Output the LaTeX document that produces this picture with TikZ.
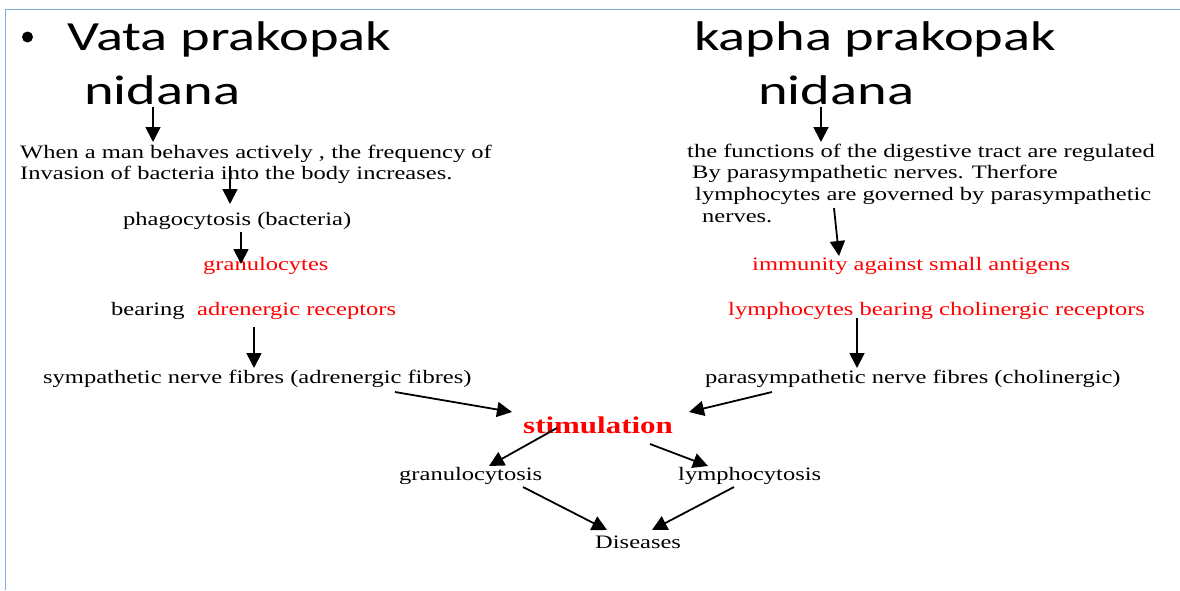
\documentclass[tikz,border=0pt]{standalone}
\usepackage{fontspec}
\setmainfont{Liberation Serif}[FakeStretch=1.29]
\newfontfamily\headfont{Carlito}[FakeStretch=1.36]
\usetikzlibrary{arrows.meta}
\definecolor{framec}{HTML}{7FADDD}
\definecolor{redtxt}{HTML}{FF0000}
\tikzset{
  txt/.style={anchor=base west, inner sep=0pt, font=\fontsize{19}{22}\selectfont},
  redt/.style={txt, text=redtxt},
  head/.style={anchor=base west, inner sep=0pt, font=\headfont\fontsize{41.5}{48}\selectfont},
  arr/.style={line width=1.8pt, -{Triangle[length=15pt,width=15pt]}},
}
\begin{document}
\begin{tikzpicture}[x=1pt,y=-1pt]
\useasboundingbox (0,0) rectangle (1180,590);
\fill[white] (0,0) rectangle (1180,590);
\draw[framec, line width=1pt] (5.5,590) -- (5.5,9.5) -- (1180,9.5);

% headings
\node[circle, fill=black, inner sep=0pt, minimum size=11pt] (bul) at (27.5,37) {};
\node[head] (vata) at (67,50) {Vata prakopak};
\node[head] (nidL) at (84,104) {nidana};
\node[head] (kapha) at (694,50) {kapha prakopak};
\node[head] (nidR) at (758,104) {nidana};

% left column
\node[txt] (l1) at (20,158) {When a man behaves actively , the frequency of};
\node[txt] (l2) at (20,179) {Invasion of bacteria into the body increases.};
\node[txt] (phago) at (123,225) {phagocytosis (bacteria)};
\node[redt] (granu) at (203,270) {granulocytes};
\node[txt] (bear) at (111,315) {bearing};
\node[redt] (adren) at (197,315) {adrenergic receptors};
\node[txt] (symp) at (43,383) {sympathetic nerve fibres (adrenergic fibres)};

% right column
\node[txt] (r1) at (687,157) {the functions of the digestive tract are regulated};
\node[txt] (r2) at (692,178) {By parasympathetic nerves. Therfore};
\node[txt] (r3) at (695,200) {lymphocytes are governed by parasympathetic};
\node[txt] (r4) at (702,222) {nerves.};
\node[redt] (immun) at (752,270) {immunity against small antigens};
\node[redt] (lymb) at (728,315) {lymphocytes bearing cholinergic receptors};
\node[txt] (para) at (705,383) {parasympathetic nerve fibres (cholinergic)};

% bottom
\node[anchor=base west, inner sep=0pt, text=redtxt, font=\fontsize{24}{28}\selectfont\bfseries] (stim) at (523,433) {stimulation};
\node[txt] (gcyt) at (399,480) {granulocytosis};
\node[txt] (lcyt) at (678,480) {lymphocytosis};
\node[txt] (dis) at (595,548) {Diseases};

% arrow end points
\coordinate (a1s) at (153,107); \coordinate (a1e) at (153,142);
\coordinate (a2s) at (230,166); \coordinate (a2e) at (230,204);
\coordinate (a3s) at (241,232); \coordinate (a3e) at (241,264);
\coordinate (a4s) at (254,327); \coordinate (a4e) at (254,368);
\coordinate (a5s) at (395,392); \coordinate (a5e) at (512,412);
\coordinate (a6s) at (821,107); \coordinate (a6e) at (821,142);
\coordinate (a7s) at (834,208); \coordinate (a7e) at (839,256);
\coordinate (a8s) at (857,318); \coordinate (a8e) at (857,368);
\coordinate (a9s) at (772,392); \coordinate (a9e) at (689,412);
\coordinate (a10s) at (557,428); \coordinate (a10e) at (489,466);
\coordinate (a11s) at (650,444); \coordinate (a11e) at (708,466);
\coordinate (a12s) at (523,487); \coordinate (a12e) at (607,530);
\coordinate (a13s) at (734,487); \coordinate (a13e) at (652,530);

\foreach \i in {1,...,13} { \draw[arr] (a\i s) -- (a\i e); }
\end{tikzpicture}
\end{document}
